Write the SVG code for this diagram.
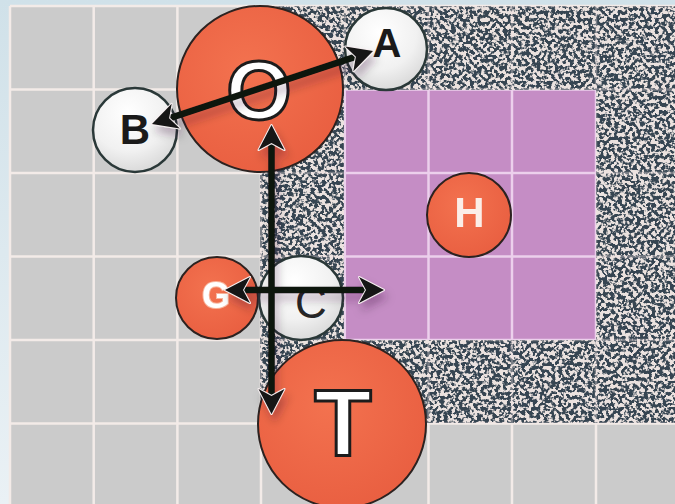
<svg xmlns="http://www.w3.org/2000/svg" xmlns:xlink="http://www.w3.org/1999/xlink" width="675" height="504" viewBox="0 0 675 504">
  <defs>
    <linearGradient id="frame" x1="0" y1="0" x2="0" y2="1">
      <stop offset="0" stop-color="#d0e1e9"/>
      <stop offset="1" stop-color="#eaf1f5"/>
    </linearGradient>
    <radialGradient id="red" cx="0.42" cy="0.38" r="0.65">
      <stop offset="0" stop-color="#f3724f"/>
      <stop offset="1" stop-color="#e95f41"/>
    </radialGradient>
    <radialGradient id="pale" cx="0.42" cy="0.3" r="0.75">
      <stop offset="0" stop-color="#ffffff"/>
      <stop offset="0.6" stop-color="#f1f1f1"/>
      <stop offset="1" stop-color="#d6d6d6"/>
    </radialGradient>
    <!-- speckled texture: thresholded fractal noise in slate over a light base -->
    <filter id="grain" x="0" y="0" width="1" height="1" color-interpolation-filters="sRGB">
      <feTurbulence type="fractalNoise" baseFrequency="0.27" numOctaves="2" seed="7" result="n"/>
      <feColorMatrix in="n" type="matrix" values="0 0 0 0 0.21  0 0 0 0 0.27  0 0 0 0 0.32  9 0 0 0 -3.95" result="d"/>
      <feGaussianBlur in="d" stdDeviation="0.5" result="b"/>
      <feComposite in="b" in2="SourceGraphic" operator="over"/>
    </filter>
    <filter id="soft" x="-10%" y="-10%" width="120%" height="120%">
      <feGaussianBlur stdDeviation="0.6"/>
    </filter>
    <filter id="shadow" x="-20%" y="-20%" width="140%" height="140%">
      <feDropShadow dx="3" dy="7" stdDeviation="4" flood-color="#2a1030" flood-opacity="0.28"/>
    </filter>
    <marker id="head" markerUnits="userSpaceOnUse" viewBox="-28 -16 32 32" refX="-14" refY="0" markerWidth="32" markerHeight="32" orient="auto-start-reverse">
      <path d="M0,0 L-25,-13 L-18,0 L-25,13 Z" fill="#141414" stroke="#f6eef0" stroke-width="2" stroke-linejoin="round" paint-order="stroke"/>
    </marker>
    <clipPath id="speckClip"><rect x="260" y="6" width="415" height="417"/></clipPath>
    <clipPath id="violetClip"><rect x="344" y="90" width="252" height="250"/></clipPath>
    <path id="gridlines" d="M10,6V504 M93.7,6V504 M177.4,6V504 M261,6V504 M344.8,6V504 M428.5,6V504 M512,6V504 M596,6V504 M10,6H675 M10,89.5H675 M10,173H675 M10,256.5H675 M10,340H675 M10,423.5H675"/>
    <style>
      .lbl { font-family: "Liberation Sans", Arial, sans-serif; font-weight: bold; text-anchor: middle; }
      .redc { fill: url(#red); stroke: #2c2220; stroke-width: 2; }
      .palec { fill: url(#pale); stroke: #2a3838; stroke-width: 2.5; }
      .arrow { fill: none; stroke: #111511; stroke-width: 6.5; marker-start: url(#head); marker-end: url(#head); }
    </style>
  </defs>

  <!-- frame and base grid -->
  <rect width="675" height="504" fill="url(#frame)"/>
  <rect x="10" y="6" width="665" height="498" fill="#cbcbcb"/>
  <use xlink:href="#gridlines" fill="none" stroke="#f3ebe8" stroke-width="2.5"/>

  <!-- speckled zone -->
  <rect x="260" y="6" width="415" height="417" fill="#ebe2df" filter="url(#grain)"/>
  <use xlink:href="#gridlines" fill="none" stroke="#f3e6e4" stroke-width="2.5" opacity="0.35" clip-path="url(#speckClip)"/>

  <!-- violet zone -->
  <rect x="344" y="90" width="252" height="250" fill="#c58dc5"/>
  <use xlink:href="#gridlines" fill="none" stroke="#ecd0ec" stroke-width="2.5" clip-path="url(#violetClip)"/>

  <!-- nodes -->
  <g id="node-O">
    <circle class="redc" cx="260" cy="89" r="83"/>
    <text class="lbl" x="259" y="119" font-size="84" fill="#ffffff" stroke="#1c1c1c" stroke-width="3">O</text>
  </g>
  <g id="node-A">
    <circle class="palec" cx="386" cy="49" r="41"/>
    <text class="lbl" x="387" y="57" font-size="40" fill="#1a1a1a">A</text>
  </g>
  <g id="node-B">
    <circle class="palec" cx="135" cy="130" r="42"/>
    <text class="lbl" x="135" y="144" font-size="42" fill="#1a1a1a">B</text>
  </g>
  <g id="node-H">
    <circle class="redc" cx="469" cy="215" r="42"/>
    <text class="lbl" x="469.5" y="227" font-size="42" fill="#fbeee8" filter="url(#soft)">H</text>
  </g>
  <g id="node-G">
    <circle class="redc" cx="217" cy="298" r="41"/>
    <text class="lbl" x="216" y="308" font-size="36" fill="#ffffff" stroke="#f8b49c" stroke-width="2" paint-order="stroke" filter="url(#soft)">G</text>
  </g>
  <g id="node-C">
    <circle class="palec" cx="301" cy="298" r="42"/>
    <text x="311" y="318" font-family="Liberation Sans, Arial, sans-serif" font-size="44" text-anchor="middle" fill="#262626">C</text>
  </g>
  <g id="node-T">
    <circle class="redc" cx="342" cy="424" r="84"/>
    <text class="lbl" x="343" y="456" font-size="94" fill="#ffffff" stroke="#1c1c1c" stroke-width="3">T</text>
  </g>

  <!-- connectors -->
  <g id="connectors" filter="url(#shadow)">
    <path class="arrow" d="M165.3,119.6 L359.7,55.4"/>
    <path class="arrow" d="M271.5,139 L271.5,400"/>
    <path class="arrow" d="M239,290 L370,290"/>
  </g>
</svg>
